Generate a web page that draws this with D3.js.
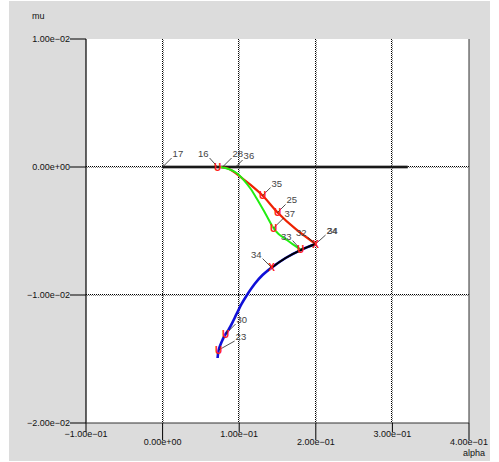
<!DOCTYPE html>
<html><head><meta charset="utf-8">
<script src="https://cdn.jsdelivr.net/npm/d3@7"></script>
<style>body{margin:0;background:#fff}svg{display:block}text{font-family:"Liberation Sans",Arial,sans-serif}</style>
</head><body>
<script>
// ---- data ----
const xTicks = [-0.1, 0, 0.1, 0.2, 0.3, 0.4];
const xTickLabels = ["−1.00e−01","0.00e+00","1.00e−01","2.00e−01","3.00e−01","4.00e−01"];
const yTicks = [0.01, 0, -0.01, -0.02];
const yTickLabels = ["1.00e−02","0.00e+00","−1.00e−02","−2.00e−02"];
const xGrid = [0, 0.1, 0.2, 0.3];
const yGrid = [0, -0.01];

const zeroAlpha = [0, 0.32];
const zeroMu = [0, 0];

const redAlpha = [0.0757,0.0836,0.0914,0.1018,0.1149,0.1305,0.1501,0.1736,0.1997];
const redMu    = [0,-0.00008,-0.00031,-0.00078,-0.0014,-0.00223,-0.00355,-0.00484,-0.00602];

const greenAlpha = [0.0757,0.0862,0.0966,0.1057,0.1149,0.124,0.1345,0.1449,0.1514,0.1606,0.1697,0.1802];
const greenMu    = [0,-0.00016,-0.00047,-0.001,-0.0017,-0.00258,-0.00367,-0.00477,-0.00523,-0.00563,-0.00602,-0.00645];

const blueAlpha = [0.1997,0.1802,0.1606,0.1423,0.1305,0.1201,0.1110,0.1031,0.0966,0.0901,0.0849,0.0822,0.0770,0.0731,0.0718];
const blueMu    = [-0.00602,-0.00649,-0.00711,-0.00786,-0.00844,-0.00914,-0.00992,-0.0107,-0.01148,-0.01227,-0.01283,-0.01305,-0.01367,-0.0143,-0.01492];

const blackAlpha = [0.1423,0.1606,0.1802,0.1997];
const blackMu    = [-0.00786,-0.00711,-0.00649,-0.00602];

const ptNames  = ["17","16","28","36","35","25","37","33","32","24","34","30","23"];
const ptAlpha  = [0,0.0718,0.0783,0.0953,0.1305,0.1501,0.1449,0.1802,0.1997,0.1997,0.1423,0.0822,0.0731];
const ptMu     = [0,0,0,0,-0.00223,-0.00355,-0.00477,-0.00645,-0.00602,-0.00602,-0.00786,-0.01305,-0.0143];
const ptMarker = ["","U","","","U","U","U","U","","X","X","U","U"];
// label leader layout (pixels): [dx, dy, anchor]
const ptLayout = [[9,-9,"start"],[-8,-9,"end"],[9,-9,"start"],[7,-7,"start"],[8,-8,"start"],[8,-8,"start"],[10,-10,"start"],[-8,-9,"end"],[-8,-7,"end"],[10,-9,"start"],[-9,-9,"end"],[10,-10,"start"],[16,-9,"start"]];

// ---- chart ----
const W = 499, H = 462;
const svg = d3.select("body").append("svg").attr("width", W).attr("height", H);
svg.append("rect").attr("x", 9).attr("y", 1).attr("width", 481).attr("height", 460).attr("fill", "#dcdcdc");

const x = d3.scaleLinear().domain([-0.1, 0.4]).range([86, 469]);
const y = d3.scaleLinear().domain([-0.02, 0.01]).range([423, 39]);

svg.append("rect").attr("x", 86).attr("y", 39).attr("width", 383).attr("height", 384).attr("fill", "#fff");

// grid (checkered dotted)
const g = svg.append("g");
xGrid.forEach(v => {
  const px = Math.round(x(v));
  g.append("line").attr("x1", px - 0.5).attr("x2", px - 0.5).attr("y1", 39).attr("y2", 423)
    .attr("stroke", "#000").attr("stroke-dasharray", "1,1");
  g.append("line").attr("x1", px + 0.5).attr("x2", px + 0.5).attr("y1", 39).attr("y2", 423)
    .attr("stroke", "#888").attr("stroke-dasharray", "1,1").attr("stroke-dashoffset", 1);
});
yGrid.forEach(v => {
  const py = Math.round(y(v));
  g.append("line").attr("y1", py - 0.5).attr("y2", py - 0.5).attr("x1", 86).attr("x2", 469)
    .attr("stroke", "#000").attr("stroke-dasharray", "1,1");
  g.append("line").attr("y1", py + 0.5).attr("y2", py + 0.5).attr("x1", 86).attr("x2", 469)
    .attr("stroke", "#888").attr("stroke-dasharray", "1,1").attr("stroke-dashoffset", 1);
});

// frame
svg.append("line").attr("x1", 86).attr("x2", 86).attr("y1", 39).attr("y2", 423).attr("stroke", "#000").attr("stroke-width", 1.2);
svg.append("line").attr("x1", 469).attr("x2", 469).attr("y1", 39).attr("y2", 423).attr("stroke", "#333");
svg.append("line").attr("x1", 86).attr("x2", 469).attr("y1", 423).attr("y2", 423).attr("stroke", "#333");

// x axis ticks & labels (alternating)
xTicks.forEach((v, i) => {
  const px = x(v);
  const long = i % 2 === 1;
  svg.append("line").attr("x1", px).attr("x2", px).attr("y1", 423).attr("y2", long ? 440 : 432)
    .attr("stroke", "#000");
  svg.append("text").attr("x", px).attr("y", long ? 445 : 437).attr("text-anchor", "middle")
    .attr("font-size", 9).attr("fill", "#111").text(xTickLabels[i]);
});
svg.append("text").attr("x", 474).attr("y", 456).attr("text-anchor", "middle").attr("font-size", 9).attr("fill", "#111").text("alpha");

// y axis
yTicks.forEach((v, i) => {
  const py = y(v);
  svg.append("line").attr("x1", 70).attr("x2", 86).attr("y1", py).attr("y2", py).attr("stroke", "#000");
  svg.append("text").attr("x", 70).attr("y", py + 3).attr("text-anchor", "end")
    .attr("font-size", 9).attr("fill", "#111").text(yTickLabels[i]);
});
svg.append("text").attr("x", 32).attr("y", 19).attr("font-size", 9).attr("fill", "#111").text("mu");

// curves
const line = d3.line().x(d => x(d[0])).y(d => y(d[1])).curve(d3.curveCatmullRom.alpha(0.5));
const zip = (a, b) => a.map((v, i) => [v, b[i]]);
svg.append("path").datum(zip(zeroAlpha, zeroMu)).attr("d", line).attr("fill", "none").attr("stroke", "#666").attr("stroke-width", 3);
svg.append("path").datum(zip(zeroAlpha, zeroMu)).attr("d", line).attr("fill", "none").attr("stroke", "#000").attr("stroke-width", 1.6);
svg.append("path").datum(zip(blueAlpha, blueMu)).attr("d", line).attr("fill", "none").attr("stroke", "#1010d8").attr("stroke-width", 2.6);
svg.append("path").datum(zip(redAlpha, redMu)).attr("d", line).attr("fill", "none").attr("stroke", "#ee2200").attr("stroke-width", 2.2);
svg.append("path").datum(zip(greenAlpha, greenMu)).attr("d", line).attr("fill", "none").attr("stroke", "#22ee11").attr("stroke-width", 2);
svg.append("path").datum(zip(blackAlpha, blackMu)).attr("d", line).attr("fill", "none").attr("stroke", "#000").attr("stroke-width", 2);

// labels and leaders
ptNames.forEach((n, i) => {
  const px = x(ptAlpha[i]), py = y(ptMu[i]);
  const [dx, dy, anchor] = ptLayout[i];
  svg.append("line").attr("x1", px).attr("y1", py).attr("x2", px + dx).attr("y2", py + dy)
    .attr("stroke", "#222").attr("stroke-width", 0.8);
  svg.append("text").attr("x", px + dx + (anchor === "start" ? 1 : -1)).attr("y", py + dy - 1)
    .attr("text-anchor", anchor).attr("font-size", 9.5).attr("fill", "#444").text(n);
  if (n === "24") {
    svg.append("text").attr("x", px + dx + 1.6).attr("y", py + dy - 1)
      .attr("text-anchor", anchor).attr("font-size", 9.5).attr("fill", "#444").text("34");
  }
});

// markers
ptNames.forEach((n, i) => {
  if (!ptMarker[i]) return;
  svg.append("text").attr("x", x(ptAlpha[i])).attr("y", y(ptMu[i]) + 3.5)
    .attr("text-anchor", "middle").attr("font-size", 10).attr("font-weight", "bold")
    .attr("fill", "#ff1a1a").text(ptMarker[i]);
});
</script>
</body></html>
